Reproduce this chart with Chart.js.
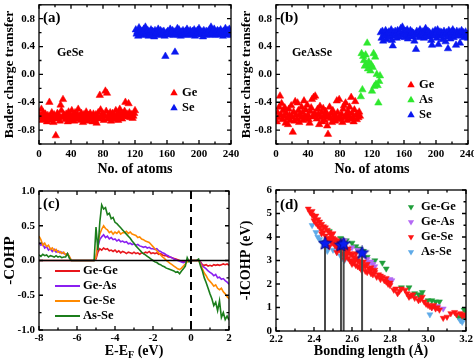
<!DOCTYPE html>
<html>
<head>
<meta charset="utf-8">
<script src="https://cdn.jsdelivr.net/npm/chart.js@4.4.0/dist/chart.umd.min.js"></script>
<style>
  body { margin: 0; background: #fff; }
  #wrap { position: relative; width: 474px; height: 364px; }
  #wrap canvas { position: absolute; left: 0; top: 0; }
</style>
</head>
<body>
<div id="wrap">
  <canvas id="chartA" width="474" height="364"></canvas>
  <canvas id="chartB" width="474" height="364"></canvas>
  <canvas id="chartC" width="474" height="364"></canvas>
  <canvas id="chartD" width="474" height="364"></canvas>
</div>
<script>
// (a) GeSe: Bader charge per atom
var geSeGe = [-0.58, -0.62, -0.50, -0.66, -0.55, -0.60, -0.64, -0.57, -0.61, -0.68,
  -0.59, -0.63, -0.40, -0.60, -0.66, -0.55, -0.62, -0.69, -0.58, -0.64,
  -0.88, -0.61, -0.56, -0.63, -0.59, -0.67, -0.44, -0.52, -0.62, -0.36,
  -0.58, -0.60, -0.65, -0.57, -0.62, -0.68, -0.54, -0.61, -0.59, -0.66,
  -0.52, -0.63, -0.58, -0.67, -0.55, -0.61, -0.64, -0.57, -0.50, -0.62,
  -0.60, -0.66, -0.56, -0.63, -0.69, -0.58, -0.61, -0.65, -0.54, -0.60,
  -0.67, -0.59, -0.62, -0.56, -0.64, -0.60, -0.68, -0.57, -0.63, -0.66,
  -0.58, -0.70, -0.61, -0.55, -0.64, -0.30, -0.51, -0.59, -0.62, -0.57,
  -0.66, -0.60, -0.24, -0.53, -0.27, -0.64, -0.58, -0.62, -0.55, -0.67,
  -0.60, -0.56, -0.63, -0.59, -0.65, -0.52, -0.61, -0.57, -0.66, -0.54,
  -0.50, -0.62, -0.58, -0.64, -0.56, -0.60, -0.53, -0.40, -0.59, -0.57,
  -0.61, -0.42, -0.55, -0.62, -0.58, -0.58, -0.63, -0.60, -0.56, -0.52];
var geSeSe = [0.64, 0.58, 0.61, 0.55, 0.67, 0.60, 0.63, 0.57, 0.62, 0.59,
  0.65, 0.56, 0.68, 0.60, 0.58, 0.63, 0.55, 0.61, 0.59, 0.64,
  0.57, 0.62, 0.60, 0.54, 0.63, 0.58, 0.61, 0.59, 0.65, 0.56,
  0.60, 0.63, 0.57, 0.61, 0.58, 0.62, 0.55, 0.26, 0.59, 0.60,
  0.62, 0.60, 0.57, 0.65, 0.60, 0.58, 0.63, 0.56, 0.61, 0.32,
  0.59, 0.62, 0.66, 0.57, 0.64, 0.60, 0.55, 0.61, 0.58, 0.63,
  0.60, 0.57, 0.62, 0.59, 0.65, 0.56, 0.61, 0.58, 0.63, 0.60,
  0.57, 0.62, 0.59, 0.64, 0.55, 0.61, 0.58, 0.63, 0.60, 0.66,
  0.59, 0.62, 0.57, 0.61, 0.54, 0.63, 0.60, 0.58, 0.62, 0.56,
  0.61, 0.59, 0.64, 0.57, 0.68, 0.60, 0.62, 0.58, 0.65, 0.56,
  0.61, 0.59, 0.63, 0.57, 0.62, 0.60, 0.64, 0.58, 0.61, 0.55,
  0.62, 0.59, 0.66, 0.57, 0.61, 0.63, 0.58, 0.65, 0.60, 0.56];

// (b) GeAsSe: Bader charge per atom
var geAsSeGe = [-0.68, -0.55, -0.62, -0.47, -0.31, -0.58, -0.42, -0.65, -0.52, -0.60,
  -0.48, -0.70, -0.56, -0.63, -0.72, -0.50, -0.59, -0.66, -0.45, -0.61,
  -0.83, -0.54, -0.67, -0.39, -0.58, -0.64, -0.41, -0.52, -0.69, -0.57,
  -0.62, -0.47, -0.55, -0.66, -0.38, -0.60, -0.51, -0.63, -0.44, -0.58,
  -0.65, -0.70, -0.53, -0.48, -0.36, -0.61, -0.33, -0.56, -0.31, -0.59,
  -0.64, -0.50, -0.57, -0.72, -0.46, -0.62, -0.55, -0.68, -0.49, -0.60,
  -0.66, -0.53, -0.58, -0.74, -0.86, -0.61, -0.47, -0.63, -0.56, -0.69,
  -0.52, -0.64, -0.58, -0.67, -0.61, -0.38, -0.55, -0.65, -0.36, -0.60,
  -0.63, -0.57, -0.69, -0.50, -0.45, -0.62, -0.41, -0.58, -0.66, -0.53,
  -0.60, -0.47, -0.64, -0.33, -0.56, -0.62, -0.68, -0.51, -0.39, -0.59,
  -0.65, -0.57, -0.62, -0.54, -0.60];
var geAsSeAs = [-0.32, 0.30, -0.22, 0.26, 0.20, 0.12, 0.28, 0.15, 0.45, 0.08,
  0.18, 0.12, 0.05, 0.14, -0.24, 0.10, 0.30, -0.17, 0.25, -0.14,
  0.00, -0.16, -0.41, -0.10, -0.02];
var geAsSeSe = [0.60, 0.52, 0.62, 0.48, 0.58, 0.55, 0.63, 0.50, 0.59,
  0.56, 0.61, 0.53, 0.58, 0.64, 0.49, 0.41, 0.60, 0.55, 0.62,
  0.57, 0.52, 0.63, 0.59, 0.54, 0.61, 0.66, 0.56, 0.68, 0.60,
  0.58, 0.53, 0.62, 0.57, 0.64, 0.51, 0.60, 0.55, 0.63, 0.58,
  0.61, 0.54, 0.59, 0.48, 0.56, 0.36, 0.62, 0.57, 0.60, 0.53,
  0.64, 0.58, 0.55, 0.61, 0.57, 0.52, 0.63, 0.66, 0.59, 0.56,
  0.62, 0.54, 0.60, 0.57, 0.49, 0.42, 0.61, 0.58, 0.55, 0.63,
  0.59, 0.52, 0.64, 0.43, 0.57, 0.61, 0.55, 0.60, 0.50, 0.58,
  0.62, 0.56, 0.47, 0.60, 0.54, 0.37, 0.63, 0.58, 0.51, 0.61,
  0.57, 0.64, 0.53, 0.60, 0.56, 0.42, 0.62, 0.58, 0.55, 0.61,
  0.45, 0.59, 0.63, 0.56, 0.60, 0.53, 0.58, 0.61, 0.55, 0.57, 0.52];

// (c) -COHP vs E-EF
var energy = [-8.0, -7.9, -7.8, -7.7, -7.6, -7.5, -7.4, -7.3, -7.2, -7.1,
  -7.0, -6.9, -6.8, -6.7, -6.6, -6.5, -6.4, -6.3, -6.2, -6.1,
  -6.0, -5.9, -5.8, -5.7, -5.6, -5.5, -5.4, -5.3, -5.2, -5.1,
  -5.0, -4.9, -4.8, -4.7, -4.6, -4.5, -4.4, -4.3, -4.2, -4.1,
  -4.0, -3.9, -3.8, -3.7, -3.6, -3.5, -3.4, -3.3, -3.2, -3.1,
  -3.0, -2.9, -2.8, -2.7, -2.6, -2.5, -2.4, -2.3, -2.2, -2.1,
  -2.0, -1.9, -1.8, -1.7, -1.6, -1.5, -1.4, -1.3, -1.2, -1.1,
  -1.0, -0.9, -0.8, -0.7, -0.6, -0.5, -0.4, -0.3, -0.2, -0.1,
  0.0, 0.1, 0.2, 0.3, 0.4, 0.5, 0.6, 0.7, 0.8, 0.9,
  1.0, 1.1, 1.2, 1.3, 1.4, 1.5, 1.6, 1.7, 1.8, 1.9, 2.0];
var cohpGeGe = [0, 0, 0, 0, 0, 0, 0, 0, 0, 0,
  0, 0, 0, 0, 0, 0, 0, 0, 0, 0,
  0, 0, 0, 0, 0, 0, 0, 0, 0, 0,
  0.02, 0.12, 0.17, 0.15, 0.18, 0.16, 0.17, 0.14, 0.15, 0.13,
  0.15, 0.12, 0.14, 0.11, 0.13, 0.12, 0.10, 0.12, 0.11, 0.10,
  0.12, 0.10, 0.11, 0.09, 0.11, 0.10, 0.12, 0.11, 0.13, 0.10,
  0.11, 0.10, 0.11, 0.09, 0.10, 0.08, 0.07, 0.07, 0.05, 0.05,
  0.04, 0.03, 0.02, 0.01, 0.00, -0.01, -0.02, -0.02, -0.01, 0.00,
  0, 0, 0, 0, 0, -0.02, -0.06, -0.07, -0.06, -0.08,
  -0.07, -0.08, -0.06, -0.07, -0.06, -0.07, -0.06, -0.05, -0.06, -0.05, -0.07];
var cohpGeAs = [0.25, 0.22, 0.24, 0.18, 0.20, 0.15, 0.17, 0.13, 0.16, 0.12,
  0.14, 0.11, 0.12, 0.10, 0.09, 0.10, 0.05, 0, 0, 0,
  0, 0, 0, 0, 0, 0, 0, 0, 0, 0,
  0.05, 0.20, 0.30, 0.34, 0.37, 0.33, 0.35, 0.31, 0.33, 0.30,
  0.31, 0.28, 0.30, 0.27, 0.28, 0.26, 0.27, 0.24, 0.25, 0.23,
  0.24, 0.22, 0.23, 0.21, 0.20, 0.19, 0.20, 0.18, 0.19, 0.17,
  0.17, 0.16, 0.17, 0.14, 0.13, 0.11, 0.10, 0.08, 0.07, 0.05,
  0.04, 0.02, 0.01, 0.00, -0.01, -0.02, -0.03, -0.02, -0.01, 0.00,
  0, 0, 0, 0, 0, -0.03, -0.08, -0.10, -0.12, -0.15,
  -0.17, -0.19, -0.22, -0.20, -0.25, -0.24, -0.27, -0.26, -0.29, -0.31, -0.34];
var cohpGeSe = [0.35, 0.30, 0.22, 0.25, 0.20, 0.22, 0.16, 0.18, 0.14, 0.16,
  0.12, 0.13, 0.10, 0.12, 0.08, 0.10, 0.06, 0, 0, 0,
  0, 0, 0, 0, 0, 0, 0, 0, 0, 0,
  0.05, 0.25, 0.38, 0.45, 0.50, 0.46, 0.44, 0.40, 0.42, 0.38,
  0.41, 0.39, 0.42, 0.38, 0.40, 0.40, 0.42, 0.39, 0.41, 0.38,
  0.37, 0.36, 0.33, 0.34, 0.31, 0.30, 0.28, 0.27, 0.26, 0.23,
  0.20, 0.17, 0.14, 0.11, 0.08, 0.05, 0.03, 0.00, -0.02, -0.04,
  -0.06, -0.08, -0.10, -0.12, -0.13, -0.11, -0.08, -0.05, -0.02, 0.00,
  0, 0, 0, 0, 0, -0.05, -0.12, -0.18, -0.22, -0.27,
  -0.30, -0.33, -0.37, -0.35, -0.40, -0.42, -0.40, -0.45, -0.48, -0.52, -0.55];
var cohpAsSe = [0.08, 0.06, 0.09, 0.07, 0.08, 0.05, 0.07, 0.06, 0.05, 0.07,
  0.05, 0.06, 0.04, 0.05, 0.05, 0.10, 0.03, 0, 0, 0,
  0, 0, 0, 0, 0, 0, 0, 0, 0, 0,
  0.48, 0.15, 0.55, 0.80, 0.74, 0.76, 0.66, 0.68, 0.60, 0.62,
  0.55, 0.53, 0.50, 0.47, 0.44, 0.41, 0.38, 0.35, 0.32, 0.28,
  0.25, 0.21, 0.18, 0.15, 0.12, 0.10, 0.08, 0.06, 0.04, 0.02,
  0.00, -0.02, -0.03, -0.05, -0.06, -0.08, -0.09, -0.11, -0.12, -0.13,
  -0.14, -0.15, -0.17, -0.16, -0.19, -0.15, -0.12, -0.08, 0.04, -0.02,
  0, 0, 0, 0, 0.02, -0.08, -0.15, -0.25, -0.32, -0.40,
  -0.48, -0.55, -0.65, -0.60, -0.72, -0.58, -0.82, -0.75, -0.85, -0.80, -0.86];

// (d) -ICOHP vs bonding length
var geGeLen = [2.48, 2.54, 2.57, 2.60, 2.62, 2.64, 2.66, 2.68, 2.72, 2.76, 2.78, 2.80, 2.86,
  2.90, 2.93, 2.95, 2.96, 2.97, 3.00, 3.02, 3.04, 3.06, 3.16, 3.18, 3.19, 3.20];
var geGeIcohp = [4.25, 3.95, 3.85, 3.75, 3.6, 3.5, 3.4, 3.15, 3.0, 2.9, 2.65, 2.15, 1.85,
  1.85, 1.6, 1.55, 1.5, 1.65, 1.3, 1.3, 1.25, 1.25, 0.6, 0.55, 0.9, 0.85];
var geAsLen = [2.56, 2.60, 2.63, 2.66, 2.68, 2.69, 2.70, 2.71, 2.72, 2.80, 2.81, 3.02, 3.05, 3.08];
var geAsIcohp = [3.85, 3.55, 3.45, 3.25, 3.05, 2.9, 2.95, 2.85, 2.75, 2.2, 2.15, 1.0, 1.05, 0.95];
var geSeLen = [2.37, 2.38, 2.39, 2.39, 2.40, 2.40, 2.41, 2.41, 2.42, 2.42,
  2.43, 2.43, 2.44, 2.44, 2.45, 2.45, 2.46, 2.46, 2.47, 2.47,
  2.48, 2.48, 2.49, 2.49, 2.50, 2.50, 2.50, 2.51, 2.51, 2.52,
  2.52, 2.53, 2.53, 2.54, 2.54, 2.55, 2.55, 2.56, 2.56, 2.57,
  2.57, 2.58, 2.58, 2.59, 2.59, 2.60, 2.60, 2.61, 2.61, 2.62,
  2.62, 2.63, 2.63, 2.64, 2.64, 2.65, 2.65, 2.66, 2.67, 2.67,
  2.68, 2.69, 2.70, 2.70, 2.71, 2.72, 2.73, 2.74, 2.75, 2.76,
  2.77, 2.78, 2.79, 2.80, 2.80, 2.82, 2.83, 2.84, 2.85, 2.86,
  2.88, 2.89, 2.90, 2.91, 2.92, 2.93, 2.95, 2.96, 2.97, 2.98,
  2.99, 3.00, 3.01, 3.02, 3.03, 3.04, 3.05, 3.06, 3.08, 3.10,
  3.12, 3.14, 3.15, 3.17, 3.18, 3.19, 3.20,
  2.46, 2.48, 2.52, 2.56, 2.60, 2.58, 2.62, 2.66, 2.70, 2.68, 2.72, 2.75, 2.78,
  2.44, 2.49, 2.53, 2.57, 2.61, 2.65];
var geSeIcohp = [5.2, 5.05, 4.95, 5.1, 4.85, 4.7, 4.9, 4.6, 4.75, 4.5,
  4.65, 4.4, 4.55, 4.3, 4.45, 4.2, 4.4, 4.05, 4.3, 3.95,
  4.2, 3.9, 4.1, 3.8, 4.15, 3.75, 3.95, 3.9, 3.65, 3.85,
  3.55, 3.8, 3.5, 3.7, 3.4, 3.6, 3.3, 3.55, 3.25, 3.45,
  3.2, 3.4, 3.1, 3.3, 3.0, 3.25, 2.95, 3.15, 2.9, 3.1,
  2.8, 3.0, 2.75, 2.95, 2.7, 2.85, 2.6, 2.8, 2.55, 2.75,
  2.5, 2.65, 2.45, 2.6, 2.4, 2.5, 2.3, 2.4, 2.2, 2.3,
  2.15, 2.1, 2.0, 2.05, 1.95, 1.75, 1.8, 1.6, 1.7, 1.8,
  1.75, 1.6, 1.45, 1.5, 1.55, 1.4, 1.3, 1.35, 1.45, 1.25,
  1.15, 1.1, 1.05, 1.0, 1.1, 0.95, 1.0, 0.9, 0.55, 0.6,
  0.75, 0.8, 0.7, 0.75, 0.65, 0.7, 0.6,
  3.75, 3.6, 3.35, 3.05, 2.85, 3.5, 3.3, 2.95, 2.7, 2.85, 2.6, 2.35, 2.25,
  4.15, 3.95, 3.6, 3.3, 3.0, 2.7];
var asSeLen = [2.39, 2.41, 2.42, 2.43, 2.44, 2.45, 2.46, 2.47, 2.48, 2.50, 2.52, 2.54, 2.55, 2.56, 3.01, 3.17, 3.18];
var asSeIcohp = [4.5, 4.2, 4.0, 3.9, 3.8, 3.7, 3.55, 3.4, 3.6, 3.45, 3.35, 3.2, 3.1, 3.0, 0.7, 0.45, 0.38];
var starLen = [2.458, 2.542, 2.556, 2.653];
var starIcohp = [3.72, 3.65, 3.70, 3.32];

// tick labels
var atomTicks = [0, 40, 80, 120, 160, 200, 240];
var chargeTicks = [-0.8, -0.4, 0, 0.4, 0.8];
var energyTicks = [-8, -6, -4, -2, 0, 2];
var cohpTicks = [-1, -0.5, 0, 0.5, 1];
var lengthTicks = [2.2, 2.4, 2.6, 2.8, 3.0, 3.2];
var icohpTicks = [0, 1, 2, 3, 4, 5, 6];

var serif = "'Liberation Serif', 'Times New Roman', serif";
Chart.defaults.font.family = serif;
Chart.defaults.font.weight = 'bold';
Chart.defaults.color = '#000';

function atoms(start, vals) {
  return vals.map(function(v, i) { return { x: start + i, y: v }; });
}
function pairs(xs, ys) {
  return xs.map(function(x, i) { return { x: x, y: ys[i] }; });
}

function tri(ctx, x, y, r, down) {
  var s = down ? -1 : 1;
  ctx.beginPath();
  ctx.moveTo(x, y - s * r);
  ctx.lineTo(x + 0.866 * r, y + s * r / 2);
  ctx.lineTo(x - 0.866 * r, y + s * r / 2);
  ctx.closePath();
  ctx.fill();
}

function starImage(size, color) {
  var c = document.createElement('canvas');
  c.width = c.height = size;
  var g = c.getContext('2d');
  var R = size / 2 - 0.5, r = R * 0.45;
  g.beginPath();
  for (var i = 0; i < 10; i++) {
    var ang = -Math.PI / 2 + i * Math.PI / 5;
    var rad = i % 2 ? r : R;
    g.lineTo(size / 2 + rad * Math.cos(ang), size / 2 + rad * Math.sin(ang));
  }
  g.closePath();
  g.fillStyle = color;
  g.fill();
  g.strokeStyle = '#00007a';
  g.lineWidth = 0.8;
  g.stroke();
  return c;
}

// frame, inward ticks, labels and legend
function decor(d) {
  return {
    id: 'decor',
    afterDatasetsDraw: function(chart) {
      var ctx = chart.ctx, a = chart.chartArea;
      var xs = chart.scales.x, ys = chart.scales.y;
      ctx.save();
      if (d.refLines) {
        ctx.strokeStyle = '#000';
        ctx.lineWidth = 1.5;
        ctx.beginPath();
        var py = ys.getPixelForValue(0);
        ctx.moveTo(a.left, py); ctx.lineTo(a.right, py);
        ctx.stroke();
        ctx.lineWidth = 2;
        ctx.setLineDash([8, 5]);
        ctx.beginPath();
        var px = xs.getPixelForValue(0);
        ctx.moveTo(px, a.top); ctx.lineTo(px, a.bottom);
        ctx.stroke();
        ctx.setLineDash([]);
      }
      ctx.strokeStyle = '#000';
      ctx.lineWidth = 1.3;
      ctx.strokeRect(a.left, a.top, a.right - a.left, a.bottom - a.top);
      ctx.beginPath();
      var v, p, len, n;
      for (n = 0; ; n++) {
        v = xs.min + n * d.xMinor;
        if (v > xs.max + 1e-9) break;
        p = xs.getPixelForValue(v);
        len = n % 2 === 0 ? 4 : 2.5;
        ctx.moveTo(p, a.bottom); ctx.lineTo(p, a.bottom - len);
        ctx.moveTo(p, a.top); ctx.lineTo(p, a.top + len);
      }
      for (n = 0; ; n++) {
        v = ys.min + n * d.yMinor;
        if (v > ys.max + 1e-9) break;
        p = ys.getPixelForValue(v);
        len = (n % 2 === 0) === d.yEven ? 4 : 2.5;
        ctx.moveTo(a.left, p); ctx.lineTo(a.left + len, p);
        ctx.moveTo(a.right, p); ctx.lineTo(a.right - len, p);
      }
      ctx.stroke();

      ctx.fillStyle = '#000';
      ctx.textAlign = 'left';
      ctx.textBaseline = 'middle';
      d.texts.forEach(function(t) {
        ctx.font = 'bold ' + t.size + 'px ' + serif;
        ctx.fillText(t.text, t.x, t.y);
      });

      if (d.xSub) {
        var s = d.xSub;
        ctx.font = 'bold 14px ' + serif;
        var w1 = ctx.measureText(s.a).width, w3 = ctx.measureText(s.c).width;
        ctx.font = 'bold 10px ' + serif;
        var w2 = ctx.measureText(s.b).width;
        var x0 = (a.left + a.right) / 2 - (w1 + w2 + w3) / 2;
        ctx.font = 'bold 14px ' + serif;
        ctx.fillText(s.a, x0, s.y);
        ctx.fillText(s.c, x0 + w1 + w2, s.y);
        ctx.font = 'bold 10px ' + serif;
        ctx.fillText(s.b, x0 + w1, s.y + 4);
      }

      var lg = d.legend;
      lg.items.forEach(function(idx, k) {
        var ds = chart.data.datasets[idx];
        var y = lg.ys[k];
        if (lg.kind === 'line') {
          ctx.strokeStyle = ds.borderColor;
          ctx.lineWidth = 2;
          ctx.beginPath();
          ctx.moveTo(lg.x1, y); ctx.lineTo(lg.x2, y);
          ctx.stroke();
        } else {
          ctx.fillStyle = ds.backgroundColor;
          tri(ctx, lg.x1, y, lg.r, lg.kind === 'down');
        }
        ctx.fillStyle = '#000';
        ctx.font = 'bold 12.5px ' + serif;
        ctx.fillText(ds.label, lg.tx, y);
      });
      ctx.restore();
    }
  };
}

function axes(p) {
  return {
    x: {
      type: 'linear', min: p.xMin, max: p.xMax,
      grid: { display: false, drawTicks: false }, border: { display: false },
      afterBuildTicks: function(s) { s.ticks = p.xTicks.map(function(v) { return { value: v }; }); },
      ticks: { autoSkip: false, maxRotation: 0, padding: p.xPad, font: { size: 11, weight: 'bold' }, color: '#000',
        callback: function(v) { return p.xDigits ? v.toFixed(p.xDigits) : String(v); } },
      title: { display: !!p.xTitle, text: p.xTitle, font: { size: 14, weight: 'bold' }, color: '#000',
        padding: { top: 0, bottom: 4 } },
      afterFit: function(s) { s.height = p.xH; s.paddingLeft = 0; s.paddingRight = 0; }
    },
    y: {
      type: 'linear', min: p.yMin, max: p.yMax,
      grid: { display: false, drawTicks: false }, border: { display: false },
      afterBuildTicks: function(s) { s.ticks = p.yTicks.map(function(v) { return { value: v }; }); },
      ticks: { autoSkip: false, padding: 4, font: { size: 11, weight: 'bold' }, color: '#000',
        callback: function(v) { return p.yDigits ? v.toFixed(p.yDigits) : String(v); } },
      title: { display: true, text: p.yTitle, font: { size: p.yTitleSize, weight: 'bold' }, color: '#000',
        padding: { top: p.yTitlePad, bottom: 0 } },
      afterFit: function(s) { s.width = 39; s.paddingTop = 0; s.paddingBottom = 0; }
    }
  };
}

function baseOptions(pad, scales) {
  return {
    responsive: false, animation: false, events: [],
    layout: { padding: pad },
    plugins: { legend: { display: false }, tooltip: { enabled: false } },
    scales: scales
  };
}

function triSet(label, data, color, r, down, order) {
  return { label: label, data: data, pointStyle: 'triangle', pointRadius: r, pointRotation: down ? 180 : 0,
    backgroundColor: color, borderColor: color, pointBorderWidth: 0.5, order: order || 0 };
}

// (a)
new Chart(document.getElementById('chartA'), {
  type: 'scatter',
  data: { datasets: [
    triSet('Ge', atoms(1, geSeGe), '#ff0000', 4.3),
    triSet('Se', atoms(121, geSeSe), '#0a18f0', 4.3)
  ] },
  options: baseOptions({ left: 0, top: 4, right: 243, bottom: 182 }, axes({
    xMin: 0, xMax: 240, xTicks: atomTicks, xTitle: 'No. of atoms', xH: 38, xPad: 4,
    yMin: -1, yMax: 1, yTicks: chargeTicks, yDigits: 1, yTitle: 'Bader charge transfer', yTitleSize: 13.5, yTitlePad: 1
  })),
  plugins: [decor({
    xMinor: 20, yMinor: 0.2, yEven: false,
    texts: [{ text: '(a)', x: 43, y: 18, size: 15 }, { text: 'GeSe', x: 57, y: 53, size: 12 }],
    legend: { kind: 'up', items: [0, 1], x1: 174, tx: 182, ys: [93, 108], r: 4.3 }
  })]
});

// (b)
new Chart(document.getElementById('chartB'), {
  type: 'scatter',
  data: { datasets: [
    triSet('Ge', atoms(1, geAsSeGe), '#ff0000', 4.3),
    triSet('As', atoms(106, geAsSeAs), '#2ee82e', 4.3),
    triSet('Se', atoms(131, geAsSeSe), '#0a18f0', 4.3)
  ] },
  options: baseOptions({ left: 237, top: 4, right: 6, bottom: 182 }, axes({
    xMin: 0, xMax: 240, xTicks: atomTicks, xTitle: 'No. of atoms', xH: 38, xPad: 4,
    yMin: -1, yMax: 1, yTicks: chargeTicks, yDigits: 1, yTitle: 'Bader charge transfer', yTitleSize: 13.5, yTitlePad: 1
  })),
  plugins: [decor({
    xMinor: 20, yMinor: 0.2, yEven: false,
    texts: [{ text: '(b)', x: 280, y: 18, size: 15 }, { text: 'GeAsSe', x: 292, y: 53, size: 12 }],
    legend: { kind: 'up', items: [0, 1, 2], x1: 411, tx: 419, ys: [85, 100, 115], r: 4.3 }
  })]
});

// (c)
function cohpSet(label, vals, color, order) {
  return { label: label, data: pairs(energy, vals), showLine: true, pointRadius: 0,
    borderColor: color, backgroundColor: color, borderWidth: 1.6, tension: 0, order: order };
}
new Chart(document.getElementById('chartC'), {
  type: 'scatter',
  data: { datasets: [
    cohpSet('Ge-Ge', cohpGeGe, '#e8151b', 4),
    cohpSet('Ge-As', cohpGeAs, '#8a1ff0', 3),
    cohpSet('Ge-Se', cohpGeSe, '#ff8a00', 2),
    cohpSet('As-Se', cohpAsSe, '#1b7d1b', 1)
  ] },
  options: baseOptions({ left: 0, top: 191, right: 245, bottom: 0 }, axes({
    xMin: -8, xMax: 2, xTicks: energyTicks, xTitle: '', xH: 34, xPad: 2,
    yMin: -1, yMax: 1, yTicks: cohpTicks, yDigits: 1, yTitle: '-COHP', yTitleSize: 15, yTitlePad: 1
  })),
  plugins: [decor({
    xMinor: 1, yMinor: 0.25, yEven: true, refLines: true,
    xSub: { a: 'E-E', b: 'F', c: ' (eV)', y: 351 },
    texts: [{ text: '(c)', x: 43, y: 204, size: 15 }],
    legend: { kind: 'line', items: [0, 1, 2, 3], x1: 55, x2: 80, tx: 83, ys: [271, 286, 301, 316] }
  })]
});

// (d)
var star = starImage(15, '#0a1ef0');
var dSets = [
  triSet('Ge-Ge', pairs(geGeLen, geGeIcohp), '#1f9e3a', 3.5, true, 6),
  triSet('Ge-As', pairs(geAsLen, geAsIcohp), '#b468f5', 3.5, true, 5),
  triSet('Ge-Se', pairs(geSeLen, geSeIcohp), '#ff1414', 3.5, true, 3),
  triSet('As-Se', pairs(asSeLen, asSeIcohp), '#5eaae8', 3.5, true, 4)
];
starLen.forEach(function(x, i) {
  dSets.push({ label: 'bond' + i, data: [{ x: x, y: 0 }, { x: x, y: starIcohp[i] }], showLine: true,
    pointRadius: 0, borderColor: '#4a4a4a', borderWidth: 2, order: 2 });
});
dSets.push({ label: 'stars', data: pairs(starLen, starIcohp), pointStyle: star, pointRadius: 7, order: 1 });
new Chart(document.getElementById('chartD'), {
  type: 'scatter',
  data: { datasets: dSets },
  options: baseOptions({ left: 237, top: 190, right: 8, bottom: 0 }, axes({
    xMin: 2.2, xMax: 3.2, xTicks: lengthTicks, xDigits: 1, xTitle: 'Bonding length (\u00c5)', xH: 33, xPad: 2,
    yMin: 0, yMax: 6, yTicks: icohpTicks, yTitle: '-ICOHP (eV)', yTitleSize: 14, yTitlePad: 1
  })),
  plugins: [decor({
    xMinor: 0.1, yMinor: 0.5, yEven: true,
    texts: [{ text: '(d)', x: 280, y: 205, size: 15 }],
    legend: { kind: 'down', items: [0, 1, 2, 3], x1: 411, tx: 421, ys: [207, 222, 237, 252], r: 3.6 }
  })]
});
</script>
</body>
</html>
